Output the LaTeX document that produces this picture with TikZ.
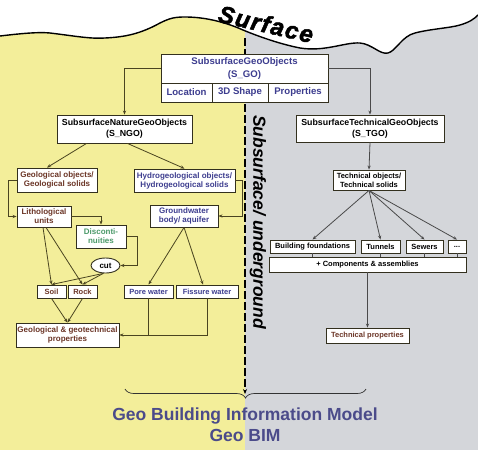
\documentclass[tikz,border=0pt]{standalone}
\usepackage{fontspec}
\setmainfont{Liberation Sans}
\usetikzlibrary{arrows.meta,decorations.pathreplacing,shapes.geometric,calc}
\definecolor{yellowbg}{HTML}{F3EE9A}
\definecolor{graybg}{HTML}{D4D6DA}
\definecolor{blueT}{HTML}{3D3D8F}
\definecolor{brownT}{HTML}{6B3526}
\definecolor{greenT}{HTML}{4C9A6A}
\definecolor{lineL}{HTML}{4A4420}
\definecolor{lineR}{HTML}{4A4A4A}
\definecolor{boxB}{HTML}{33301E}
\definecolor{bimT}{HTML}{4B4B8A}
\begin{document}
\begin{tikzpicture}[x=1pt,y=-1pt,
  box/.style={draw=boxB, fill=white, line width=0.9pt, inner sep=0pt, align=center},
  tl/.style={font=\bfseries\fontsize{8}{9}\selectfont},
  sm/.style={font=\bfseries\fontsize{7.5}{9}\selectfont},
  ttl/.style={font=\bfseries\fontsize{8.8}{11}\selectfont},
  big/.style={font=\bfseries\fontsize{9.6}{12.5}\selectfont, text=blueT},
  conL/.style={draw=lineL, line width=0.8pt},
  conR/.style={draw=lineR, line width=0.8pt},
  arr/.style={-{Stealth[length=4pt,width=3.2pt]}}
]
\useasboundingbox (0,0) rectangle (478,450);
% backgrounds
\fill[yellowbg] (0,0) rectangle (245,450);
\fill[graybg] (245,0) rectangle (478,450);
\fill[white] (0,0) -- (0,36)
  .. controls (25,33) and (40,32) .. (50,33)
  .. controls (75,36) and (90,39) .. (105,38)
  .. controls (125,37) and (140,34) .. (160,23)
  .. controls (170,18) and (175,17) .. (185,17)
  .. controls (205,17) and (225,22) .. (243,30)
  .. controls (260,37) and (280,44) .. (300,48)
  .. controls (325,52) and (345,42) .. (360,43)
  .. controls (372,44) and (380,55) .. (388,53)
  .. controls (396,51) and (402,36) .. (415,33)
  .. controls (430,29) and (450,28) .. (460,25)
  .. controls (470,22) and (474,19) .. (478,15)
  -- (478,0) -- cycle;
\draw[line width=1.4pt] (0,36)
  .. controls (25,33) and (40,32) .. (50,33)
  .. controls (75,36) and (90,39) .. (105,38)
  .. controls (125,37) and (140,34) .. (160,23)
  .. controls (170,18) and (175,17) .. (185,17)
  .. controls (205,17) and (225,22) .. (243,30)
  .. controls (260,37) and (280,44) .. (300,48)
  .. controls (325,52) and (345,42) .. (360,43)
  .. controls (372,44) and (380,55) .. (388,53)
  .. controls (396,51) and (402,36) .. (415,33)
  .. controls (430,29) and (450,28) .. (460,25)
  .. controls (470,22) and (474,19) .. (478,15);
% Surface label
\node[rotate=-13, inner sep=0pt, font=\bfseries\itshape\fontsize{24}{24}\selectfont\addfontfeatures{LetterSpace=6,FakeBold=2}] (surf) at (266,24) {Surface};
% dashed boundary
\coordinate (dtop) at (245,38);
\coordinate (dbot) at (245,394);
\draw[line width=1.3pt, dash pattern=on 8pt off 3pt, -{Stealth[length=5pt,width=4pt]}] (dtop) -- (dbot);
% vertical text
\node[rotate=-90, font=\bfseries\itshape\fontsize{17.5}{18}\selectfont] (subt) at (258,222) {Subsurface/ underground};
% top box
\node[box, big, minimum width=167pt, minimum height=29pt] (sgo) at (244.5,68.5) {SubsurfaceGeoObjects\\(S\_GO)};
\node[box, big, minimum width=51pt, minimum height=19pt] (loc) at (186.5,92.5) {Location};
\node[box, big, minimum width=56pt, minimum height=19pt] (shp) at (240,92.5) {3D Shape};
\node[box, big, minimum width=60pt, minimum height=19pt] (prp) at (298,92.5) {Properties};
% second level
\node[box, ttl, minimum width=135pt, minimum height=28pt] (sngo) at (124.5,129) {SubsurfaceNatureGeoObjects\\(S\_NGO)};
\node[box, ttl, minimum width=148pt, minimum height=27pt] (stgo) at (370,128.5) {SubsurfaceTechnicalGeoObjects\\(S\_TGO)};
% left side
\node[box, tl, text=brownT, minimum width=80pt, minimum height=24pt] (geo) at (57,180) {Geological objects/\\Geological solids};
\node[box, tl, text=blueT, minimum width=101pt, minimum height=23pt] (hyd) at (184.5,180.5) {Hydrogeological objects/\\Hydrogeological solids};
\node[box, tl, text=brownT, minimum width=54pt, minimum height=21pt] (lit) at (44,216.5) {Lithological\\units};
\node[box, tl, text=blueT, minimum width=68pt, minimum height=22pt] (gw) at (184,216) {Groundwater\\body/ aquifer};
\node[box, tl, text=greenT, minimum width=50pt, minimum height=23pt] (dis) at (101,236.5) {Disconti-\\nuities};
\node[box, ellipse, tl, minimum width=29pt, minimum height=15pt] (cut) at (105.5,265.5) {cut};
\node[box, sm, text=brownT, minimum width=29pt, minimum height=13pt] (soil) at (51.5,291.5) {Soil};
\node[box, sm, text=brownT, minimum width=29pt, minimum height=13pt] (rock) at (82.5,291.5) {Rock};
\node[box, sm, text=blueT, minimum width=49pt, minimum height=13pt] (pore) at (148.5,291.5) {Pore water};
\node[box, sm, text=blueT, minimum width=62pt, minimum height=13pt] (fis) at (207,291.5) {Fissure water};
\node[box, tl, text=brownT, minimum width=103pt, minimum height=24pt] (gp) at (67.5,335) {Geological \& geotechnical\\properties};
% right side
\node[box, sm, minimum width=72pt, minimum height=20pt] (tech) at (369,180) {Technical objects/\\Technical solids};
\node[box, sm, minimum width=85pt, minimum height=13pt] (bf) at (312.5,246.5) {Building foundations};
\node[box, sm, minimum width=39pt, minimum height=13pt] (tun) at (380.5,246.5) {Tunnels};
\node[box, sm, minimum width=37pt, minimum height=13pt] (sew) at (424.5,246.5) {Sewers};
\node[box, sm, minimum width=18pt, minimum height=13pt] (dots) at (457,246.5) {...};
\node[box, sm, minimum width=197pt, minimum height=15pt] (comp) at (367.5,264.5) {+ Components \& assemblies};
\node[box, sm, text=brownT, minimum width=83pt, minimum height=15pt] (tp) at (367.5,335.5) {Technical properties};
% connectors top
\draw[conL, arr] (sgo.west) -| (sngo.north);
\draw[conR, arr] (sgo.east) -| (stgo.north);
% left connectors
\draw[conL, arr] ($(sngo.south)+(-38,0)$) -- ($(geo.north)+(-10,0)$);
\draw[conL, arr] ($(sngo.south)+(3,0)$) -- (hyd.north);
\draw[conL, arr] (geo.west) -- ++(-8,0) |- (lit.west);
\draw[conL, arr] (hyd.east) -- ++(7,0) |- (gw.east);
\draw[conL, arr] (lit.east) -| (dis.north);
\draw[conL, arr] (dis.east) -- ++(11,0) |- (cut.east);
\draw[conL, arr] ($(lit.south)+(-1,0)$) -- (soil.north);
\draw[conL, arr] ($(lit.south)+(2,0)$) -- (rock.north);
\draw[conL, arr] (cut.255) -- (soil.north);
\draw[conL, arr] (cut.255) -- (rock.north);
\draw[conL, arr] (soil.south) -- (gp.north);
\draw[conL, arr] (rock.south) -- (gp.north);
\draw[conL, arr] (gw.south) -- (pore.north);
\draw[conL, arr] (gw.south) -- ($(fis.north)+(-4,0)$);
\draw[conL] (pore.south) -- (pore.south |- gp.east);
\draw[conL, arr] (fis.south) |- (gp.east);
% right connectors
\draw[conR, arr] (stgo.south) -- (tech.north);
\draw[conR, arr] (tech.south) -- (bf.north);
\draw[conR, arr] (tech.south) -- (tun.north);
\draw[conR, arr] (tech.south) -- (sew.north);
\draw[conR, arr] (tech.south) -- (dots.north);
\draw[conR] (bf.south) -- (bf.south |- comp.north);
\draw[conR] (tun.south) -- (tun.south |- comp.north);
\draw[conR] (sew.south) -- (sew.south |- comp.north);
\draw[conR] (dots.south) -- (dots.south |- comp.north);
\draw[conR, arr] (comp.south) -- (tp.north);
% brace
\coordinate (bl) at (125,389);
\coordinate (br) at (366,389);
\draw[line width=0.7pt, draw=black!80, decorate, decoration={brace, mirror, amplitude=9pt}] (bl) -- (br);
% title
\node[font=\bfseries\fontsize{17.5}{21}\selectfont, text=bimT, align=center] (bim) at (245,425) {Geo Building Information Model\\Geo BIM};
\end{tikzpicture}
\end{document}
